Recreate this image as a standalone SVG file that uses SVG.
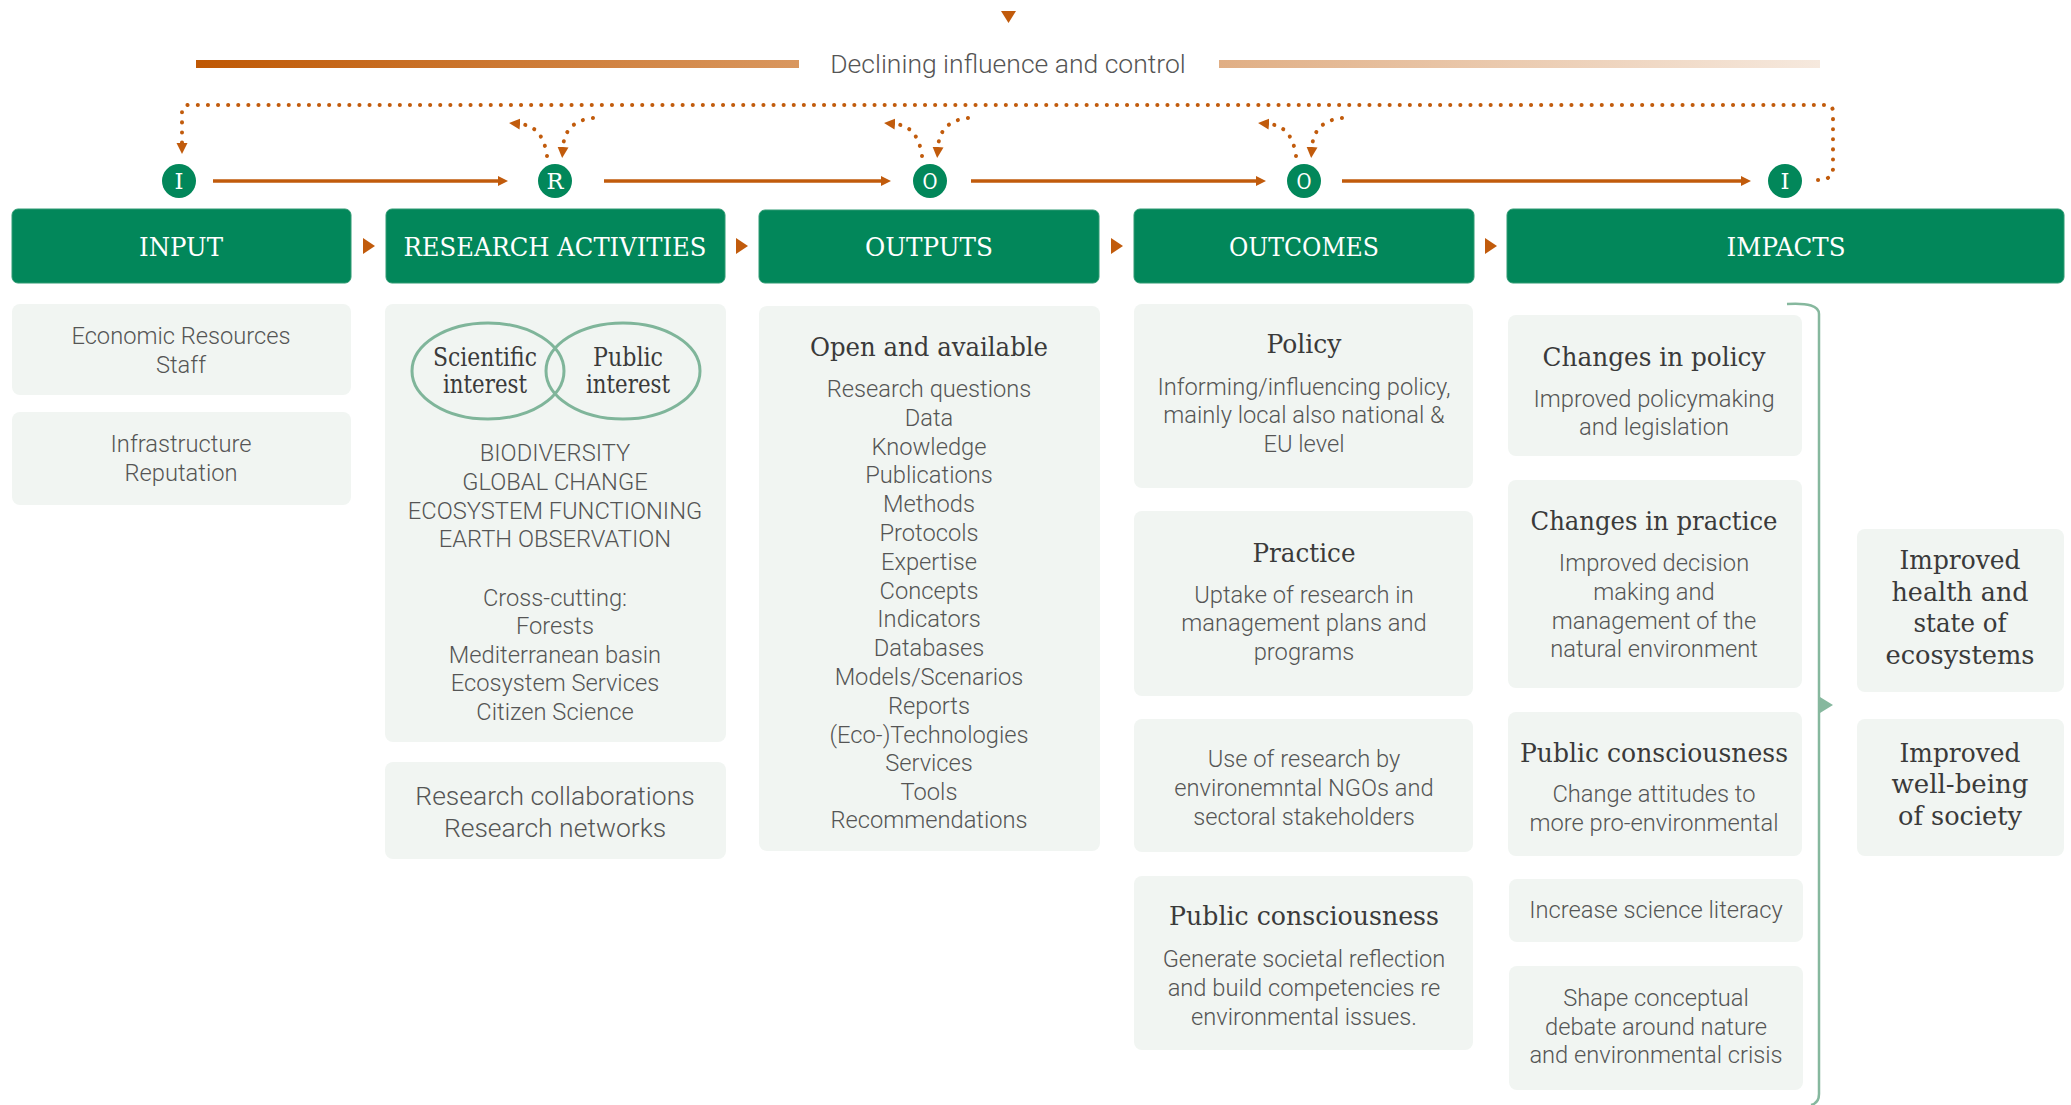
<svg xmlns="http://www.w3.org/2000/svg" width="2071" height="1105" viewBox="0 0 2071 1105">
<style>
.hdr{fill:#02875a;stroke:#2f9a72;stroke-width:1}
.htx{font-family:"DejaVu Serif",serif;font-size:26.5px;fill:#ffffff;text-anchor:middle}
.box{fill:#f1f5f2}
.bt{font-family:Roboto,"Liberation Sans",sans-serif;font-weight:300;font-size:23.7px;fill:#555555;text-anchor:middle}
.bt2{font-family:Roboto,"Liberation Sans",sans-serif;font-weight:300;font-size:26.5px;fill:#555555;text-anchor:middle}
.st{font-family:"DejaVu Serif",serif;font-size:26.5px;fill:#3a3a3a;text-anchor:middle}
.ctx{font-family:"DejaVu Serif",serif;font-size:23px;fill:#ffffff;text-anchor:middle}
.arr{fill:none;stroke:#c15b0c;stroke-width:3.5}
.dot{fill:none;stroke:#c15b0c;stroke-width:4;stroke-linecap:round;stroke-dasharray:0.1 10}
.tri{fill:#c15b0c}
</style>
<defs>
<linearGradient id="g1" x1="0" x2="1" y1="0" y2="0"><stop offset="0" stop-color="#bf5804"/><stop offset="1" stop-color="#d9975f"/></linearGradient>
<linearGradient id="g2" x1="0" x2="1" y1="0" y2="0"><stop offset="0" stop-color="#e0ae84"/><stop offset="1" stop-color="#f6e9de"/></linearGradient>
<marker id="ah" viewBox="0 0 10 10" refX="2" refY="5" markerWidth="10" markerHeight="13" markerUnits="userSpaceOnUse" orient="auto"><path d="M0,0 L10,5 L0,10 z" fill="#c15b0c"/></marker>
<marker id="dah" viewBox="0 0 10 10" refX="0" refY="5" markerWidth="11" markerHeight="13" markerUnits="userSpaceOnUse" orient="auto"><path d="M0,0 L10,5 L0,10 z" fill="#c15b0c"/></marker>
</defs>

<!-- top indicator -->
<g id="influence">
<polygon class="tri" points="1001,11 1016,11 1008.5,23"/>
<rect x="196" y="60" width="603" height="8" fill="url(#g1)"/>
<rect x="1219" y="60" width="601" height="8" fill="url(#g2)"/>
<text x="1008" y="73" font-family="Roboto,'Liberation Sans',sans-serif" font-weight="300" font-size="26.5" fill="#555555" text-anchor="middle">Declining influence and control</text>
</g>

<!-- connectors -->
<g id="connectors">
<line class="arr" x1="213" y1="181" x2="500" y2="181" marker-end="url(#ah)"/>
<line class="arr" x1="604" y1="181" x2="883" y2="181" marker-end="url(#ah)"/>
<line class="arr" x1="971" y1="181" x2="1258" y2="181" marker-end="url(#ah)"/>
<line class="arr" x1="1342" y1="181" x2="1743" y2="181" marker-end="url(#ah)"/>
<path class="dot" d="M1818,180 Q1833,180 1833,168 L1833,112 Q1833,105 1826,105 L189,105 Q182,105 182,112 L182,143" marker-end="url(#dah)"/>
<path class="dot" d="M593,118 Q565,121 563,147" marker-end="url(#dah)"/>
<path class="dot" d="M547,156 Q543,126 520,124" marker-end="url(#dah)"/>
<path class="dot" d="M968,118 Q940,121 938,147" marker-end="url(#dah)"/>
<path class="dot" d="M922,156 Q918,126 895,124" marker-end="url(#dah)"/>
<path class="dot" d="M1342,118 Q1314,121 1312,147" marker-end="url(#dah)"/>
<path class="dot" d="M1296,156 Q1292,126 1269,124" marker-end="url(#dah)"/>
<polygon class="tri" points="363,238 375,246 363,254"/>
<polygon class="tri" points="736,238 748,246 736,254"/>
<polygon class="tri" points="1111,238 1123,246 1111,254"/>
<polygon class="tri" points="1485,238 1497,246 1485,254"/>
<path d="M1787,304 Q1819,302 1819,314 L1819,1094 Q1819,1103 1811,1105" fill="none" stroke="#86b89e" stroke-width="2.5"/>
<polygon points="1820,697 1833,705 1820,713" fill="#86b89e"/>
</g>

<!-- stage circles -->
<g id="c-input"><circle cx="179" cy="181" r="17" fill="#02875a"/><text class="ctx" x="179" y="189" textLength="9" lengthAdjust="spacingAndGlyphs">I</text></g>
<g id="c-research"><circle cx="555" cy="181" r="17" fill="#02875a"/><text class="ctx" x="555" y="189" textLength="17" lengthAdjust="spacingAndGlyphs">R</text></g>
<g id="c-outputs"><circle cx="930" cy="181" r="17" fill="#02875a"/><text class="ctx" x="930" y="189" textLength="15" lengthAdjust="spacingAndGlyphs">O</text></g>
<g id="c-outcomes"><circle cx="1304" cy="181" r="17" fill="#02875a"/><text class="ctx" x="1304" y="189" textLength="15" lengthAdjust="spacingAndGlyphs">O</text></g>
<g id="c-impacts"><circle cx="1785" cy="181" r="17" fill="#02875a"/><text class="ctx" x="1785" y="189" textLength="9" lengthAdjust="spacingAndGlyphs">I</text></g>

<!-- headers -->
<g id="h-input"><rect class="hdr" x="12" y="209" width="339" height="74" rx="6"/><text class="htx" x="181" y="256" textLength="84" lengthAdjust="spacingAndGlyphs">INPUT</text></g>
<g id="h-research"><rect class="hdr" x="386" y="209" width="339" height="74" rx="6"/><text class="htx" x="555" y="256" textLength="303" lengthAdjust="spacingAndGlyphs">RESEARCH ACTIVITIES</text></g>
<g id="h-outputs"><rect class="hdr" x="759" y="210" width="340" height="73" rx="6"/><text class="htx" x="929" y="256" textLength="128" lengthAdjust="spacingAndGlyphs">OUTPUTS</text></g>
<g id="h-outcomes"><rect class="hdr" x="1134" y="209" width="340" height="74" rx="6"/><text class="htx" x="1304" y="256" textLength="150" lengthAdjust="spacingAndGlyphs">OUTCOMES</text></g>
<g id="h-impacts"><rect class="hdr" x="1507" y="209" width="557" height="74" rx="6"/><text class="htx" x="1786" y="256" textLength="119" lengthAdjust="spacingAndGlyphs">IMPACTS</text></g>

<!-- input column -->
<g id="n-economic"><rect class="box" x="12" y="304" width="339" height="91" rx="8"/>
<text class="bt" x="181" y="344">Economic Resources</text><text class="bt" x="181" y="373">Staff</text></g>
<g id="n-infra"><rect class="box" x="12" y="412" width="339" height="93" rx="8"/>
<text class="bt" x="181" y="452">Infrastructure</text><text class="bt" x="181" y="481">Reputation</text></g>

<!-- research column -->
<g id="n-research"><rect class="box" x="385" y="304" width="341" height="438" rx="8"/>
<ellipse cx="488" cy="371" rx="76" ry="48" fill="none" stroke="#7fb59a" stroke-width="3"/>
<ellipse cx="623" cy="371" rx="77" ry="48" fill="none" stroke="#7fb59a" stroke-width="3"/>
<text class="st" x="485" y="366" font-size="25.5" fill="#333333" textLength="104" lengthAdjust="spacingAndGlyphs">Scientific</text>
<text class="st" x="485" y="393" font-size="25.5" fill="#333333" textLength="84" lengthAdjust="spacingAndGlyphs">interest</text>
<text class="st" x="628" y="366" font-size="25.5" fill="#333333" textLength="70" lengthAdjust="spacingAndGlyphs">Public</text>
<text class="st" x="628" y="393" font-size="25.5" fill="#333333" textLength="84" lengthAdjust="spacingAndGlyphs">interest</text>
<text class="bt" x="555" y="461">BIODIVERSITY</text>
<text class="bt" x="555" y="490">GLOBAL CHANGE</text>
<text class="bt" x="555" y="519">ECOSYSTEM FUNCTIONING</text>
<text class="bt" x="555" y="547">EARTH OBSERVATION</text>
<text class="bt" x="555" y="606">Cross-cutting:</text>
<text class="bt" x="555" y="634">Forests</text>
<text class="bt" x="555" y="663">Mediterranean basin</text>
<text class="bt" x="555" y="691">Ecosystem Services</text>
<text class="bt" x="555" y="720">Citizen Science</text>
</g>
<g id="n-collab"><rect class="box" x="385" y="762" width="341" height="97" rx="8"/>
<text class="bt2" x="555" y="805">Research collaborations</text><text class="bt2" x="555" y="837">Research networks</text></g>

<!-- outputs column -->
<g id="n-outputs"><rect class="box" x="759" y="306" width="341" height="545" rx="8"/>
<text class="st" x="929" y="356" textLength="238" lengthAdjust="spacingAndGlyphs">Open and available</text>
<text class="bt" x="929" y="397">Research questions</text>
<text class="bt" x="929" y="426">Data</text>
<text class="bt" x="929" y="455">Knowledge</text>
<text class="bt" x="929" y="483">Publications</text>
<text class="bt" x="929" y="512">Methods</text>
<text class="bt" x="929" y="541">Protocols</text>
<text class="bt" x="929" y="570">Expertise</text>
<text class="bt" x="929" y="599">Concepts</text>
<text class="bt" x="929" y="627">Indicators</text>
<text class="bt" x="929" y="656">Databases</text>
<text class="bt" x="929" y="685">Models/Scenarios</text>
<text class="bt" x="929" y="714">Reports</text>
<text class="bt" x="929" y="743">(Eco-)Technologies</text>
<text class="bt" x="929" y="771">Services</text>
<text class="bt" x="929" y="800">Tools</text>
<text class="bt" x="929" y="828">Recommendations</text>
</g>

<!-- outcomes column -->
<g id="n-policy"><rect class="box" x="1134" y="304" width="339" height="184" rx="8"/>
<text class="st" x="1304" y="353" textLength="75" lengthAdjust="spacingAndGlyphs">Policy</text>
<text class="bt" x="1304" y="395">Informing/influencing policy,</text>
<text class="bt" x="1304" y="423">mainly local also national &amp;</text>
<text class="bt" x="1304" y="452">EU level</text></g>
<g id="n-practice"><rect class="box" x="1134" y="511" width="339" height="185" rx="8"/>
<text class="st" x="1304" y="562" textLength="103" lengthAdjust="spacingAndGlyphs">Practice</text>
<text class="bt" x="1304" y="603">Uptake of research in</text>
<text class="bt" x="1304" y="631">management plans and</text>
<text class="bt" x="1304" y="660">programs</text></g>
<g id="n-ngos"><rect class="box" x="1134" y="719" width="339" height="133" rx="8"/>
<text class="bt" x="1304" y="767">Use of research by</text>
<text class="bt" x="1304" y="796">environemntal NGOs and</text>
<text class="bt" x="1304" y="825">sectoral stakeholders</text></g>
<g id="n-public1"><rect class="box" x="1134" y="876" width="339" height="174" rx="8"/>
<text class="st" x="1304" y="925" textLength="270" lengthAdjust="spacingAndGlyphs">Public consciousness</text>
<text class="bt" x="1304" y="967">Generate societal reflection</text>
<text class="bt" x="1304" y="996">and build competencies re</text>
<text class="bt" x="1304" y="1025">environmental issues.</text></g>

<!-- impacts column -->
<g id="n-chpolicy"><rect class="box" x="1508" y="315" width="294" height="141" rx="8"/>
<text class="st" x="1654" y="366" textLength="223" lengthAdjust="spacingAndGlyphs">Changes in policy</text>
<text class="bt" x="1654" y="407">Improved policymaking</text>
<text class="bt" x="1654" y="435">and legislation</text></g>
<g id="n-chpractice"><rect class="box" x="1508" y="480" width="294" height="208" rx="8"/>
<text class="st" x="1654" y="530" textLength="247" lengthAdjust="spacingAndGlyphs">Changes in practice</text>
<text class="bt" x="1654" y="571">Improved decision</text>
<text class="bt" x="1654" y="600">making and</text>
<text class="bt" x="1654" y="629">management of the</text>
<text class="bt" x="1654" y="657">natural environment</text></g>
<g id="n-public2"><rect class="box" x="1508" y="712" width="294" height="144" rx="8"/>
<text class="st" x="1654" y="762" textLength="268" lengthAdjust="spacingAndGlyphs">Public consciousness</text>
<text class="bt" x="1654" y="802">Change attitudes to</text>
<text class="bt" x="1654" y="831">more pro-environmental</text></g>
<g id="n-literacy"><rect class="box" x="1509" y="879" width="294" height="63" rx="8"/>
<text class="bt" x="1656" y="918">Increase science literacy</text></g>
<g id="n-shape"><rect class="box" x="1509" y="966" width="294" height="124" rx="8"/>
<text class="bt" x="1656" y="1006">Shape conceptual</text>
<text class="bt" x="1656" y="1035">debate around nature</text>
<text class="bt" x="1656" y="1063">and environmental crisis</text></g>

<g id="n-health"><rect class="box" x="1857" y="529" width="207" height="163" rx="8"/>
<text class="st" x="1960" y="569" font-size="28" textLength="121" lengthAdjust="spacingAndGlyphs">Improved</text>
<text class="st" x="1960" y="601" font-size="28" textLength="137" lengthAdjust="spacingAndGlyphs">health and</text>
<text class="st" x="1960" y="632" font-size="28" textLength="93" lengthAdjust="spacingAndGlyphs">state of</text>
<text class="st" x="1960" y="664" font-size="28" textLength="149" lengthAdjust="spacingAndGlyphs">ecosystems</text></g>
<g id="n-wellbeing"><rect class="box" x="1857" y="719" width="207" height="137" rx="8"/>
<text class="st" x="1960" y="762" font-size="28" textLength="121" lengthAdjust="spacingAndGlyphs">Improved</text>
<text class="st" x="1960" y="793" font-size="28" textLength="137" lengthAdjust="spacingAndGlyphs">well-being</text>
<text class="st" x="1960" y="825" font-size="28" textLength="124" lengthAdjust="spacingAndGlyphs">of society</text></g>
</svg>
